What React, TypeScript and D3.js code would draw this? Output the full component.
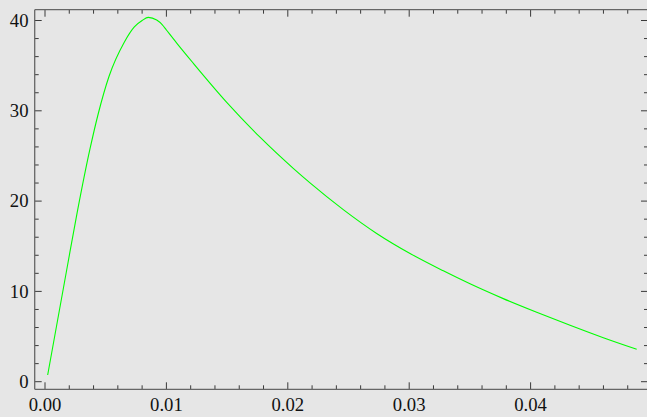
import React from "react";
import * as d3 from "d3";

// values
const tValues = [0.00022, 0.00179, 0.00266, 0.00371, 0.00439, 0.00527, 0.00653, 0.00736, 0.008, 0.00851, 0.0092, 0.00965, 0.01, 0.01085, 0.01222, 0.01497, 0.01771, 0.02045, 0.02183, 0.02457, 0.02732, 0.03007, 0.03281, 0.03501, 0.03775, 0.0405, 0.04325, 0.04599, 0.04874];
const yValues = [0.74, 12.4, 18.8, 25.8, 29.7, 33.8, 37.6, 39.3, 40.0, 40.35, 40.05, 39.55, 38.95, 37.5, 35.26, 30.94, 27.08, 23.63, 22.02, 19.06, 16.42, 14.2, 12.28, 10.84, 9.2, 7.69, 6.25, 4.87, 3.59];

const xMajor = [0, 0.01, 0.02, 0.03, 0.04];
const xLabels = ["0.00", "0.01", "0.02", "0.03", "0.04"];
const xMinor = [0.002, 0.004, 0.006, 0.008, 0.012, 0.014, 0.016, 0.018, 0.022, 0.024, 0.026, 0.028, 0.032, 0.034, 0.036, 0.038, 0.042, 0.044, 0.046, 0.048];
const yMajor = [0, 10, 20, 30, 40];
const yLabels = ["0", "10", "20", "30", "40"];
const yMinor = [2, 4, 6, 8, 12, 14, 16, 18, 22, 24, 26, 28, 32, 34, 36, 38];

const width = 647, height = 417;
const left = 34.7, right = 648, top = 9.7, bottom = 389.3;

export default function App() {
  const x = d3.scaleLinear().domain([0, 0.04]).range([45, 530.6]);
  const y = d3.scaleLinear().domain([0, 40]).range([381.7, 20.5]);

  const pts = tValues.map((t, i) => [t, yValues[i]] as [number, number]);
  const line = d3.line<[number, number]>()
    .x(d => x(d[0]))
    .y(d => y(d[1]))
    .curve(d3.curveMonotoneX);

  const font = "'Liberation Serif', 'Times New Roman', serif";
  const tickColor = "#3a3a3a";

  return (
    <svg width={width} height={height} style={{ position: "absolute", left: 0, top: 0 }}>
      <rect x={0} y={0} width={width} height={height} fill="#e6e6e6" />
      <path d={line(pts) || ""} fill="none" stroke="#00ff00" strokeWidth={1.1} />

      {xMajor.map(v => (
        <g key={"xm" + v}>
          <line x1={x(v)} x2={x(v)} y1={bottom} y2={bottom - 7} stroke={tickColor} />
          <line x1={x(v)} x2={x(v)} y1={top} y2={top + 7} stroke={tickColor} />
        </g>
      ))}
      {xMinor.map(v => (
        <g key={"xn" + v}>
          <line x1={x(v)} x2={x(v)} y1={bottom} y2={bottom - 4} stroke={tickColor} />
          <line x1={x(v)} x2={x(v)} y1={top} y2={top + 4} stroke={tickColor} />
        </g>
      ))}
      {yMajor.map(v => (
        <g key={"ym" + v}>
          <line x1={left} x2={left + 7} y1={y(v)} y2={y(v)} stroke={tickColor} />
          <line x1={right} x2={right - 7} y1={y(v)} y2={y(v)} stroke={tickColor} />
        </g>
      ))}
      {yMinor.map(v => (
        <g key={"yn" + v}>
          <line x1={left} x2={left + 4} y1={y(v)} y2={y(v)} stroke={tickColor} />
          <line x1={right} x2={right - 4} y1={y(v)} y2={y(v)} stroke={tickColor} />
        </g>
      ))}

      {/* frame: right side falls just outside the picture */}
      <line x1={left} x2={width} y1={top} y2={top} stroke="#666" strokeWidth={1.3} />
      <line x1={left} x2={width} y1={bottom} y2={bottom} stroke="#666" strokeWidth={1.3} />
      <line x1={left} x2={left} y1={top} y2={bottom} stroke="#666" strokeWidth={1.3} />

      {xMajor.map((v, i) => (
        <text key={"xl" + v} x={x(v)} y={411} textAnchor="middle" fontFamily={font} fontSize={18.7} fill="#111">
          {xLabels[i]}
        </text>
      ))}
      {yMajor.map((v, i) => (
        <text key={"yl" + v} x={28.5} y={y(v)} dy="0.33em" textAnchor="end" fontFamily={font} fontSize={18.7} fill="#111">
          {yLabels[i]}
        </text>
      ))}
    </svg>
  );
}
